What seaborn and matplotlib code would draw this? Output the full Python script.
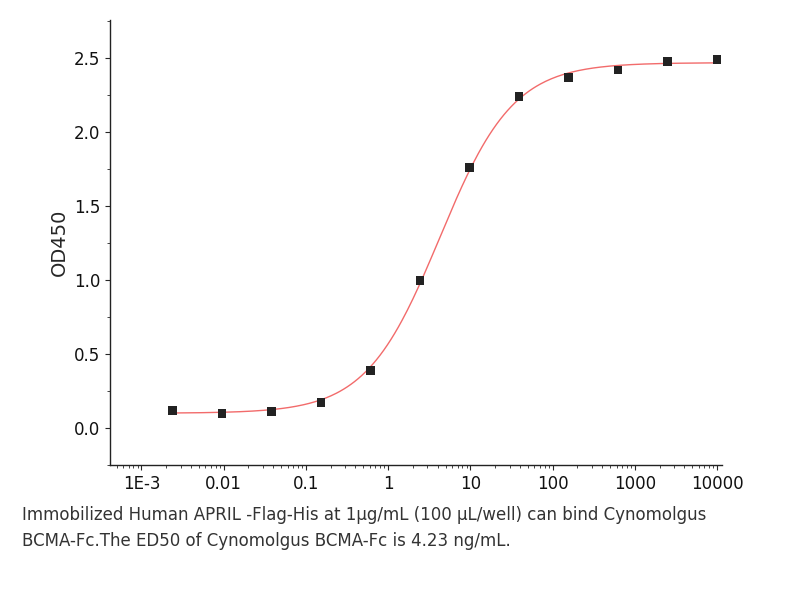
import numpy as np
import matplotlib
matplotlib.use("Agg")
import matplotlib.pyplot as plt
import seaborn as sns
from matplotlib.ticker import LogLocator, FixedLocator, MultipleLocator

conc = [0.00238, 0.00954, 0.0381, 0.153, 0.610, 2.44, 9.77, 39.1, 156, 625, 2500, 10000]
od450 = [0.12, 0.10, 0.11, 0.17, 0.39, 1.00, 1.76, 2.24, 2.37, 2.42, 2.48, 2.49]
xtick_vals = [0.001, 0.01, 0.1, 1, 10, 100, 1000, 10000]
xtick_labels = ["1E-3", "0.01", "0.1", "1", "10", "100", "1000", "10000"]
# 4PL fit parameters
fit_bottom, fit_top, fit_ec50, fit_hill = 0.10, 2.47, 4.23, 0.97

sns.set_style("ticks")
plt.rcParams['font.family'] = ['DejaVu Sans']
fig = plt.figure(figsize=(8.04, 6), dpi=100)
ax = fig.add_axes([0.137, 0.225, 0.761, 0.742])

xc = np.logspace(np.log10(conc[0]), np.log10(conc[-1]), 300)
yc = fit_bottom + (fit_top - fit_bottom) / (1 + (fit_ec50 / xc) ** fit_hill)
sns.lineplot(x=xc, y=yc, ax=ax, color="#f26b6b", lw=1.0)
sns.scatterplot(x=conc, y=od450, ax=ax, marker="s", color="#222222", s=40, edgecolor="none", zorder=3)

ax.set_xscale("log")
ax.set_xlim(10**-3.38, 10**4.06)
ax.set_ylim(-0.25, 2.76)
ax.xaxis.set_major_locator(FixedLocator(xtick_vals))
ax.set_xticklabels(xtick_labels, fontsize=12)
ax.xaxis.set_minor_locator(LogLocator(base=10, subs=np.arange(2, 10)))
ax.yaxis.set_major_locator(MultipleLocator(0.5))
ax.yaxis.set_minor_locator(MultipleLocator(0.25))
ax.tick_params(axis="both", labelsize=12, labelcolor="#111111")
ax.set_ylabel("OD450", fontsize=14)
sns.despine(ax=ax)
for s in ["left", "bottom"]:
    ax.spines[s].set_linewidth(1.0)
    ax.spines[s].set_color("#222222")

fig.text(0.027, 0.12, "Immobilized Human APRIL -Flag-His at 1μg/mL (100 μL/well) can bind Cynomolgus\nBCMA-Fc.The ED50 of Cynomolgus BCMA-Fc is 4.23 ng/mL.",
         fontsize=12, color="#333333", linespacing=1.5, va="center")
fig.savefig("out.png", dpi=100)
